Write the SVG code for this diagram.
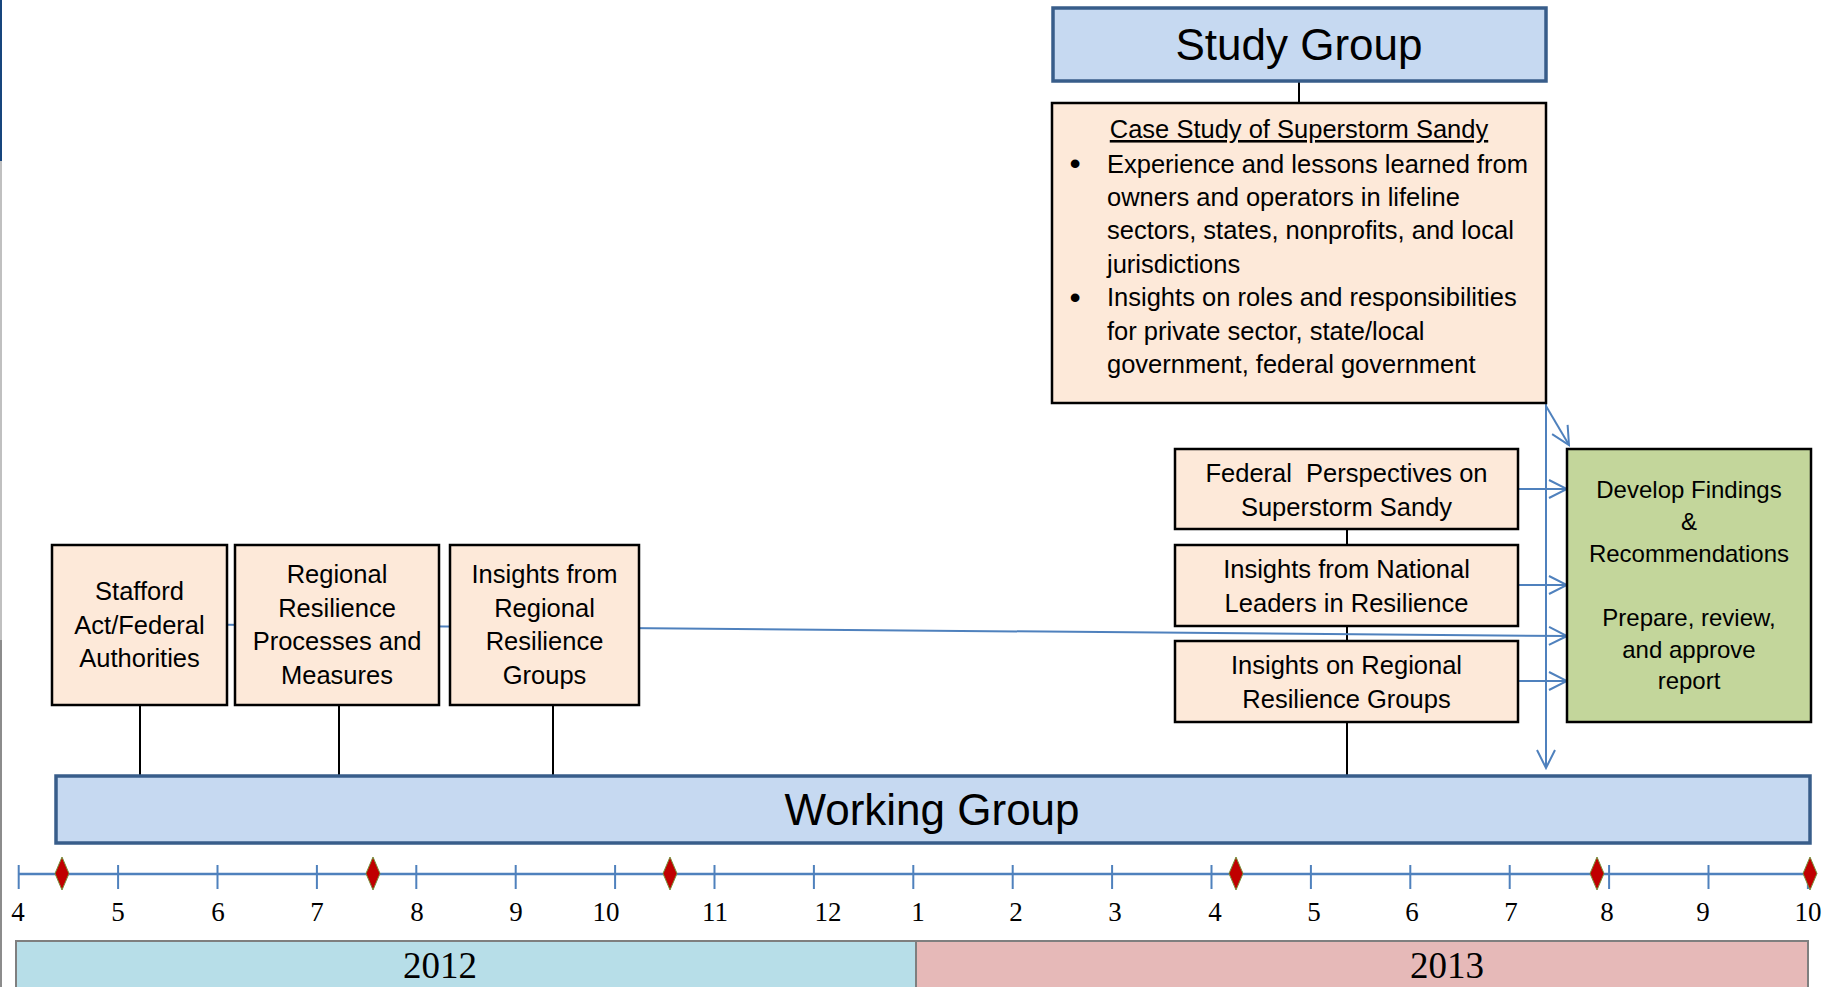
<svg xmlns="http://www.w3.org/2000/svg" width="1833" height="987" viewBox="0 0 1833 987">
<style>
.t{font-family:"Liberation Sans",Arial,sans-serif;fill:#000;}
.b{font-size:25.5px;text-anchor:middle;}
.g{font-size:24px;text-anchor:middle;}
.big{font-size:44px;text-anchor:middle;}
.cs{font-size:25.5px;}
.bul{font-size:32px;text-anchor:middle;}
.num{font-family:"Liberation Serif","Times New Roman",serif;font-size:27px;text-anchor:middle;fill:#000;}
.yr{font-family:"Liberation Serif","Times New Roman",serif;font-size:37px;text-anchor:middle;fill:#000;}
.box{fill:#fde9d9;stroke:#000;stroke-width:2.5;}
.grp{fill:#c6d9f1;stroke:#385d8a;stroke-width:3.5;}
.blk{stroke:#000;stroke-width:2;fill:none;}
.arr{stroke:#4f81bd;stroke-width:2;fill:none;}
.tick{stroke:#4f81bd;stroke-width:2;}
.dia{fill:#c00000;stroke:#76923c;stroke-width:1;}
</style>
<defs>
<marker id="ah" markerWidth="22" markerHeight="22" viewBox="-20 -11 22 22" refX="0" refY="0" orient="auto" markerUnits="userSpaceOnUse">
<path d="M-18,-9 L0,0 L-18,9" fill="none" stroke="#4f81bd" stroke-width="2"/>
</marker>
</defs>

<g id="page-edge">
<line x1="1" y1="0" x2="1" y2="161" stroke="#17457d" stroke-width="2"/>
<line x1="1" y1="161" x2="1" y2="640" stroke="#c0c0c0" stroke-width="2"/>
<line x1="1" y1="640" x2="1" y2="987" stroke="#8c8c8c" stroke-width="2"/>
</g>

<g id="connectors">
<line class="blk" x1="1299" y1="81" x2="1299" y2="103"/>
<line class="blk" x1="140" y1="705" x2="140" y2="776"/>
<line class="blk" x1="339" y1="705" x2="339" y2="776"/>
<line class="blk" x1="553" y1="705" x2="553" y2="776"/>
<line class="blk" x1="1347" y1="529" x2="1347" y2="545"/>
<line class="blk" x1="1347" y1="626" x2="1347" y2="641"/>
<line class="blk" x1="1347" y1="722" x2="1347" y2="776"/>
<line class="arr" x1="140" y1="624" x2="1567" y2="636" marker-end="url(#ah)"/>
<line class="arr" x1="1518" y1="489" x2="1567" y2="489" marker-end="url(#ah)"/>
<line class="arr" x1="1518" y1="585" x2="1567" y2="585" marker-end="url(#ah)"/>
<line class="arr" x1="1518" y1="681" x2="1567" y2="681" marker-end="url(#ah)"/>
<line class="arr" x1="1546" y1="403" x2="1546" y2="768" marker-end="url(#ah)"/>
<line class="arr" x1="1546" y1="406" x2="1569" y2="445" marker-end="url(#ah)"/>
</g>

<g id="study-group">
<rect class="grp" x="1053" y="8" width="493" height="73"/>
<text class="t big" x="1299" y="60">Study Group</text>
</g>

<g id="case-study">
<rect class="box" x="1052" y="103" width="494" height="300"/>
<text class="t cs" x="1299" y="138" text-anchor="middle" text-decoration="underline">Case Study of Superstorm Sandy</text>
<text class="t bul" x="1075" y="174">•</text>
<text class="t bul" x="1075" y="307.5">•</text>
<text class="t cs" x="1107" y="172.5">Experience and lessons learned from</text>
<text class="t cs" x="1107" y="206">owners and operators in lifeline</text>
<text class="t cs" x="1107" y="239">sectors, states, nonprofits, and local</text>
<text class="t cs" x="1107" y="272.5">jurisdictions</text>
<text class="t cs" x="1107" y="306">Insights on roles and responsibilities</text>
<text class="t cs" x="1107" y="339.5">for private sector, state/local</text>
<text class="t cs" x="1107" y="373">government, federal government</text>
</g>

<g id="stafford">
<rect class="box" x="52" y="545" width="175" height="160"/>
<text class="t b" x="139.5" y="600">Stafford</text>
<text class="t b" x="139.5" y="633.5">Act/Federal</text>
<text class="t b" x="139.5" y="667">Authorities</text>
</g>

<g id="regional-processes">
<rect class="box" x="235" y="545" width="204" height="160"/>
<text class="t b" x="337" y="583">Regional</text>
<text class="t b" x="337" y="616.5">Resilience</text>
<text class="t b" x="337" y="650">Processes and</text>
<text class="t b" x="337" y="683.5">Measures</text>
</g>

<g id="insights-regional-groups">
<rect class="box" x="450" y="545" width="189" height="160"/>
<text class="t b" x="544.5" y="583">Insights from</text>
<text class="t b" x="544.5" y="616.5">Regional</text>
<text class="t b" x="544.5" y="650">Resilience</text>
<text class="t b" x="544.5" y="683.5">Groups</text>
</g>

<g id="federal-perspectives">
<rect class="box" x="1175" y="449" width="343" height="80"/>
<text class="t b" x="1346.5" y="482">Federal&#160; Perspectives on</text>
<text class="t b" x="1346.5" y="516">Superstorm Sandy</text>
</g>

<g id="national-leaders">
<rect class="box" x="1175" y="545" width="343" height="81"/>
<text class="t b" x="1346.5" y="578">Insights from National</text>
<text class="t b" x="1346.5" y="612">Leaders in Resilience</text>
</g>

<g id="regional-groups">
<rect class="box" x="1175" y="641" width="343" height="81"/>
<text class="t b" x="1346.5" y="673.5">Insights on Regional</text>
<text class="t b" x="1346.5" y="708">Resilience Groups</text>
</g>

<g id="findings">
<rect x="1567" y="449" width="244" height="273" fill="#c3d69b" stroke="#000" stroke-width="2.5"/>
<text class="t g" x="1689" y="498">Develop Findings</text>
<text class="t g" x="1689" y="530">&amp;</text>
<text class="t g" x="1689" y="562">Recommendations</text>
<text class="t g" x="1689" y="626">Prepare, review,</text>
<text class="t g" x="1689" y="658">and approve</text>
<text class="t g" x="1689" y="689">report</text>
</g>

<g id="working-group">
<rect class="grp" x="56" y="776" width="1754" height="67"/>
<text class="t big" x="932" y="825">Working Group</text>
</g>

<g id="timeline">
<line x1="19" y1="874" x2="1810" y2="874" stroke="#4f81bd" stroke-width="2.5"/>
<path class="tick" d="M18.7,865V889M118.1,865V889M217.5,865V889M316.9,865V889M416.3,865V889M515.7,865V889M615.1,865V889M714.5,865V889M813.9,865V889M913.3,865V889M1012.7,865V889M1112.1,865V889M1211.5,865V889M1310.9,865V889M1410.3,865V889M1509.7,865V889M1609.1,865V889M1708.5,865V889M1807.9,865V889"/>
<text class="num" x="18" y="921">4</text>
<text class="num" x="118" y="921">5</text>
<text class="num" x="218" y="921">6</text>
<text class="num" x="317" y="921">7</text>
<text class="num" x="417" y="921">8</text>
<text class="num" x="516" y="921">9</text>
<text class="num" x="606" y="921">10</text>
<text class="num" x="715" y="921">11</text>
<text class="num" x="828" y="921">12</text>
<text class="num" x="918" y="921">1</text>
<text class="num" x="1016" y="921">2</text>
<text class="num" x="1115" y="921">3</text>
<text class="num" x="1215" y="921">4</text>
<text class="num" x="1314" y="921">5</text>
<text class="num" x="1412" y="921">6</text>
<text class="num" x="1511" y="921">7</text>
<text class="num" x="1607" y="921">8</text>
<text class="num" x="1703" y="921">9</text>
<text class="num" x="1808" y="921">10</text>
<path class="dia" d="M62,857L69,873.5L62,890L55,873.5Z"/>
<path class="dia" d="M373,857L380,873.5L373,890L366,873.5Z"/>
<path class="dia" d="M670,857L677,873.5L670,890L663,873.5Z"/>
<path class="dia" d="M1236,857L1243,873.5L1236,890L1229,873.5Z"/>
<path class="dia" d="M1597,857L1604,873.5L1597,890L1590,873.5Z"/>
<path class="dia" d="M1810,857L1817,873.5L1810,890L1803,873.5Z"/>
</g>

<g id="years">
<rect x="16" y="941" width="900" height="60" fill="#b7dee8" stroke="#7f7f7f" stroke-width="2"/>
<rect x="916" y="941" width="892" height="60" fill="#e6b9b8" stroke="#7f7f7f" stroke-width="2"/>
<text class="yr" x="440" y="978">2012</text>
<text class="yr" x="1447" y="978">2013</text>
</g>
</svg>
